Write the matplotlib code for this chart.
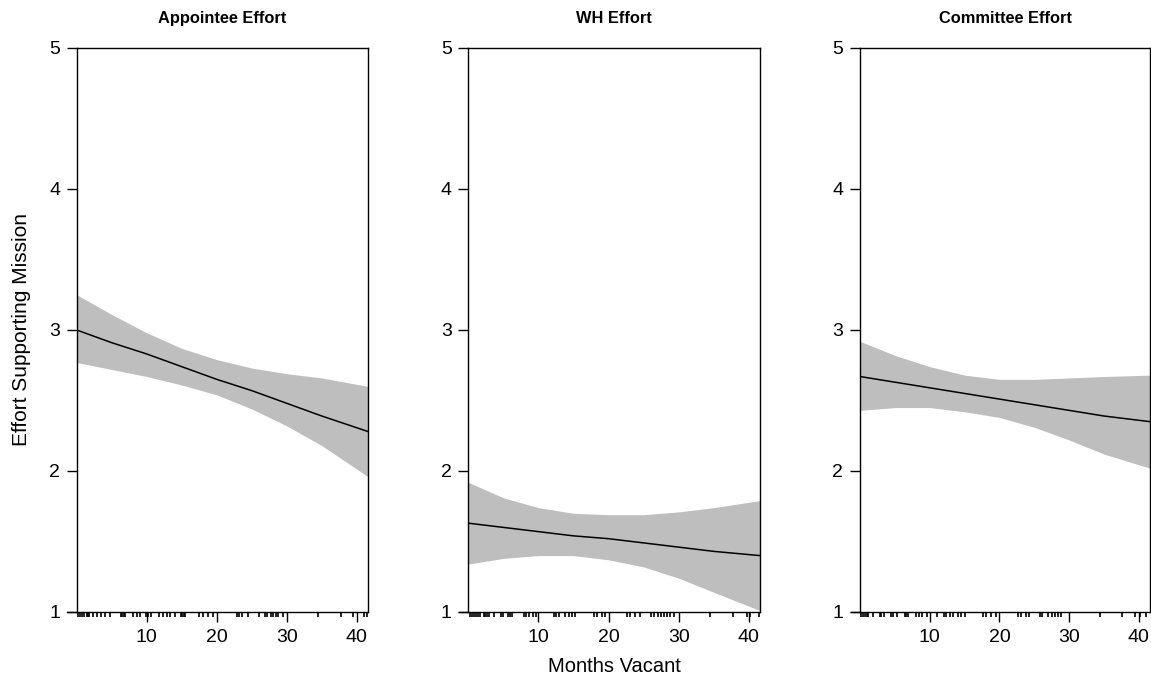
import matplotlib
matplotlib.use("Agg")

import matplotlib.pyplot as plt
import numpy as np
from matplotlib import rcParams
from matplotlib.transforms import blended_transform_factory

rcParams['font.family'] = ['Liberation Sans', 'DejaVu Sans']

# panel titles
titles = ["Appointee Effort", "WH Effort", "Committee Effort"]

# months vacant grid where the fitted curve / band was read
months = [0, 5, 10, 15, 20, 25, 30, 35, 41.6]

# fitted effort and 95% band, one list per panel
appointee_fit = [3.00, 2.91, 2.83, 2.74, 2.65, 2.57, 2.48, 2.39, 2.28]
appointee_hi = [3.25, 3.11, 2.98, 2.87, 2.79, 2.73, 2.69, 2.66, 2.60]
appointee_lo = [2.77, 2.72, 2.67, 2.61, 2.54, 2.44, 2.32, 2.18, 1.96]

wh_fit = [1.63, 1.60, 1.57, 1.54, 1.52, 1.49, 1.46, 1.43, 1.40]
wh_hi = [1.92, 1.81, 1.74, 1.70, 1.69, 1.69, 1.71, 1.74, 1.79]
wh_lo = [1.34, 1.38, 1.40, 1.40, 1.37, 1.32, 1.24, 1.14, 1.01]

committee_fit = [2.67, 2.63, 2.59, 2.55, 2.51, 2.47, 2.43, 2.39, 2.35]
committee_hi = [2.92, 2.82, 2.74, 2.68, 2.65, 2.65, 2.66, 2.67, 2.68]
committee_lo = [2.43, 2.45, 2.45, 2.42, 2.38, 2.31, 2.22, 2.12, 2.02]

# rug of observed months vacant, one per panel
appointee_rug = [0.2, 0.5, 0.8, 1.1, 1.5, 1.6, 1.7, 2.3, 2.9, 3.4, 4.0, 4.8,
                 6.3, 6.5, 6.7, 6.9, 8.1, 8.6, 9.1, 9.9, 10.2, 10.6, 11.8,
                 12.3, 12.9, 13.3, 14.1, 14.9, 15.1, 15.3, 15.5, 17.5, 18.1,
                 18.7, 19.4, 22.9, 23.2, 23.6, 24.5, 26.1, 26.9, 27.2, 27.7,
                 28.0, 28.4, 28.8, 29.5, 34.5, 37.7, 39.5, 41.1, 41.4]
wh_rug = [0.3, 0.5, 0.8, 1.1, 1.4, 1.7, 2.2, 2.4, 2.7, 3.0, 3.7, 4.6, 5.0,
          5.6, 6.0, 6.3, 8.0, 8.3, 8.7, 9.2, 9.7, 12.2, 12.5, 12.9, 13.8,
          14.3, 14.8, 15.2, 17.9, 18.3, 19.1, 19.5, 22.6, 23.1, 23.8, 24.5,
          26.1, 26.5, 27.0, 27.5, 27.9, 28.3, 28.8, 29.3, 34.5, 37.8, 39.7,
          40.2, 41.5]
committee_rug = [0.1, 0.4, 0.7, 1.0, 1.2, 1.9, 2.8, 3.0, 3.4, 4.4, 4.8, 5.3,
                 6.4, 6.6, 6.9, 8.1, 8.5, 8.9, 9.6, 11.0, 12.0, 12.4, 12.9,
                 13.3, 14.0, 14.5, 15.0, 17.6, 18.1, 18.8, 19.5, 22.7, 23.1,
                 23.8, 24.2, 25.8, 26.1, 26.9, 27.5, 28.0, 28.4, 28.9, 34.4,
                 37.6, 39.5, 40.2, 41.0]

fits = [appointee_fit, wh_fit, committee_fit]
his = [appointee_hi, wh_hi, committee_hi]
los = [appointee_lo, wh_lo, committee_lo]
rugs = [appointee_rug, wh_rug, committee_rug]

W, H = 1151, 677
fig = plt.figure(figsize=(W / 100, H / 100), dpi=100)

# pixel boxes of the three panels (left, right)
lefts = [76.7, 468.3, 860]
rights = [368, 760, 1150]
top, bottom = 48, 612

band_color = "#bebebe"

for i in range(3):
    ax = fig.add_axes([lefts[i] / W, 1 - bottom / H,
                       (rights[i] - lefts[i]) / W, (bottom - top) / H])
    ax.fill_between(months, los[i], his[i], color=band_color, lw=0)
    ax.plot(months, fits[i], color="black", lw=1.1)

    ax.set_xlim(0, 41.6)
    ax.set_ylim(1, 5)
    ax.set_yticks([1, 2, 3, 4, 5])
    ax.set_xticks([10, 20, 30, 40])
    ax.tick_params(axis="both", direction="out", length=7, width=1,
                   labelsize=14, pad=5, colors="black")
    for s in ax.spines.values():
        s.set_linewidth(1.0)
    ax.spines["bottom"].set_visible(False)

    # x axis line stretching a bit past the box, like the original
    ax.plot([-0.032, 1.0], [0, 0], transform=ax.transAxes, color="black",
            lw=1.0, clip_on=False)

    # rug under the axis
    trans = blended_transform_factory(ax.transData, ax.transAxes)
    ax.vlines(rugs[i], 0, -0.0095, transform=trans, color="black", lw=1.2,
              clip_on=False)

    ax.set_title(titles[i], fontsize=11.8, fontweight="bold", pad=18)

    if i == 0:
        ax.set_ylabel("Effort Supporting Mission", fontsize=15, labelpad=13)
    if i == 1:
        ax.set_xlabel("Months Vacant", fontsize=14.5, labelpad=8)

fig.savefig("out.png", dpi=100)
